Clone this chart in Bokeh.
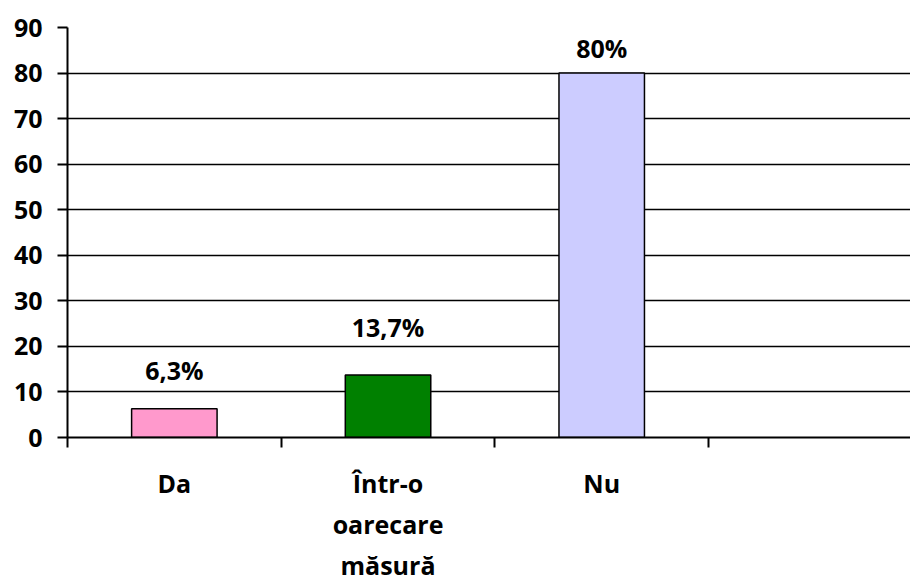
from bokeh.plotting import figure
from bokeh.models import Range1d, FixedTicker, LinearAxis, Grid, ColumnDataSource
from bokeh.core.properties import value
from bokeh.embed import file_html
from bokeh.resources import INLINE

categories = ["Da", "Într-o oarecare măsură", "Nu"]
label_line1 = ["Da", "Într-o", "Nu"]
label_line2 = ["", "oarecare", ""]
label_line3 = ["", "măsură", ""]
values = [6.3, 13.7, 80]
value_labels = ["6,3%", "13,7%", "80%"]
colors = ["#FF99CC", "#008000", "#CCCCFF"]
y_ticks = [0, 10, 20, 30, 40, 50, 60, 70, 80, 90]

FONT = "Open Sans"
FS = "25px"

pos = [i + 0.5 for i in range(len(categories))]
slot_bounds = list(range(len(categories) + 2))

src = ColumnDataSource(dict(x=pos, top=values, color=colors, lab=value_labels,
                            yoff=[-39, -48, -25]))

p = figure(width=910, height=584, x_range=Range1d(0, 3.945), y_range=Range1d(0, 90),
           x_axis_type=None, y_axis_type=None, output_backend="svg",
           toolbar_location=None, min_border_left=67, min_border_right=0,
           min_border_top=27, min_border_bottom=146)
p.outline_line_color = None
p.background_fill_color = "white"
p.border_fill_color = "white"

yt = FixedTicker(ticks=y_ticks)
yaxis = LinearAxis(ticker=yt, axis_line_color="black", axis_line_width=2,
                   major_tick_out=10, major_tick_in=0, major_tick_line_width=2,
                   minor_tick_line_color=None, major_label_standoff=15,
                   major_label_text_font=FONT, major_label_text_font_size=FS,
                   major_label_text_font_style="bold", major_label_text_color="black")
p.add_layout(yaxis, "left")
p.add_layout(Grid(dimension=1, ticker=yt, grid_line_color="black", grid_line_width=1.5))

def label_axis(lines, first=False, standoff=0):
    ticks = [x for x, t in zip(pos, lines) if t]
    ax = LinearAxis(
        ticker=FixedTicker(ticks=ticks, minor_ticks=slot_bounds if first else []),
        major_label_overrides={x: t for x, t in zip(pos, lines) if t},
        major_tick_line_color=None, major_tick_out=0, major_tick_in=0,
        minor_tick_out=10, minor_tick_in=0,
        minor_tick_line_color="black" if first else None, minor_tick_line_width=2,
        axis_line_color="black" if first else None, axis_line_width=2,
        major_label_standoff=standoff,
        major_label_text_font=FONT, major_label_text_font_size=FS,
        major_label_text_font_style="bold", major_label_text_color="black")
    p.add_layout(ax, "below")

label_axis(label_line1, first=True, standoff=18)
label_axis(label_line2, standoff=4)
label_axis(label_line3, standoff=4)

p.vbar(x="x", top="top", width=0.4, source=src, fill_color="color",
       line_color="black", line_width=1.5)
p.text(x="x", y="top", text="lab", y_offset="yoff", source=src,
       text_align="center", text_baseline="alphabetic",
       text_font=value(FONT), text_font_size=FS, text_font_style="bold",
       text_color="black")

open("out.html", "w").write(file_html(p, INLINE))
